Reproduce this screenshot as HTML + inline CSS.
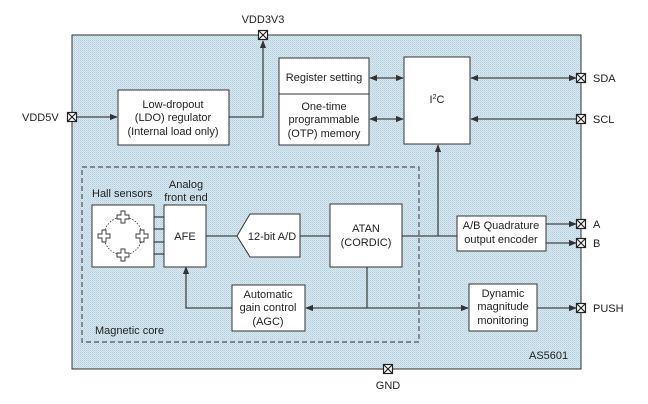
<!DOCTYPE html>
<html><head><style>
body{margin:0;background:#fff;}
svg{display:block;font-family:"Liberation Sans",Arial,sans-serif;font-size:11px;fill:#222;}
</style></head><body>
<svg width="648" height="404" viewBox="0 0 648 404" xmlns="http://www.w3.org/2000/svg">
<defs>
<marker id="a" viewBox="0 0 10 10" refX="9" refY="5" markerWidth="6" markerHeight="6" orient="auto-start-reverse"><path d="M0,1 L10,5 L0,9 z" fill="#333"/></marker>
<pattern id="dots" width="2" height="2" patternUnits="userSpaceOnUse"><rect width="2" height="2" fill="#d6e8f2"/><rect width="1" height="1" fill="#b8cfdc"/><rect x="1" y="1" width="1" height="1" fill="#c4d9e5"/></pattern>
<g id="cr"><path d="M-2,-6 h4 v4 h4 v4 h-4 v4 h-4 v-4 h-4 v-4 h4 z" fill="#fff" stroke="#333" stroke-width="0.9"/></g>
<g id="pin"><rect x="-4.5" y="-4.5" width="9" height="9" fill="#fff" stroke="#222" stroke-width="1.2"/><path d="M-4.5,-4.5 L4.5,4.5 M4.5,-4.5 L-4.5,4.5" stroke="#222" stroke-width="1.2"/></g>
</defs>
<rect x="72" y="35" width="509" height="334" fill="url(#dots)" stroke="#333" stroke-width="1"/>
<rect x="82" y="167" width="337" height="175" fill="none" stroke="#555" stroke-width="1.2" stroke-dasharray="5,3"/>

<g stroke="#444" stroke-width="1.3" fill="none">
<line x1="77" y1="117" x2="117" y2="117" marker-end="url(#a)"/>
<polyline points="229,117 263,117 263,41" marker-end="url(#a)"/>
<line x1="370" y1="78" x2="403" y2="78" marker-start="url(#a)" marker-end="url(#a)"/>
<line x1="370" y1="119" x2="403" y2="119" marker-start="url(#a)" marker-end="url(#a)"/>
<line x1="471" y1="78" x2="576" y2="78" marker-start="url(#a)" marker-end="url(#a)"/>
<line x1="576" y1="119" x2="471" y2="119" marker-end="url(#a)"/>
<line x1="154" y1="217" x2="164" y2="217"/><line x1="154" y1="229" x2="164" y2="229"/>
<line x1="154" y1="242" x2="164" y2="242"/><line x1="154" y1="254" x2="164" y2="254"/>
<line x1="206" y1="236" x2="237" y2="236"/>
<line x1="300" y1="236" x2="330" y2="236"/>
<line x1="402" y1="236" x2="457" y2="236"/>
<line x1="438" y1="236" x2="438" y2="145" marker-end="url(#a)"/>
<line x1="546" y1="224" x2="576" y2="224" marker-end="url(#a)"/>
<line x1="546" y1="243" x2="576" y2="243" marker-end="url(#a)"/>
<line x1="367" y1="267" x2="367" y2="308"/>
<line x1="367" y1="308" x2="306" y2="308" marker-end="url(#a)"/>
<line x1="367" y1="308" x2="468" y2="308" marker-end="url(#a)"/>
<polyline points="232,308 186,308 186,267" marker-end="url(#a)"/>
<line x1="537" y1="308" x2="576" y2="308" marker-end="url(#a)"/>
</g>

<g fill="#fff" stroke="#333" stroke-width="1">
<rect x="118" y="90" width="111" height="55"/>
<rect x="279" y="58" width="90" height="87"/>
<line x1="279" y1="94" x2="369" y2="94"/>
<rect x="404" y="57" width="66" height="87"/>
<rect x="92" y="205" width="62" height="62"/>
<rect x="164" y="205" width="42" height="62"/>
<path d="M237,236 L250,214 L300,214 L300,257 L250,257 Z"/>
<rect x="330" y="204" width="72" height="63"/>
<rect x="232" y="285" width="73" height="46"/>
<rect x="457" y="216" width="89" height="35"/>
<rect x="469" y="284" width="68" height="47"/>
</g>
<circle cx="123" cy="236" r="19" fill="none" stroke="#333" stroke-width="0.8" stroke-dasharray="1.5,1.5"/>
<use href="#cr" x="123" y="217"/><use href="#cr" x="123" y="255"/>
<use href="#cr" x="104" y="236"/><use href="#cr" x="142" y="236"/>

<use href="#pin" x="72" y="117"/><use href="#pin" x="263" y="35"/>
<use href="#pin" x="581" y="78"/><use href="#pin" x="581" y="119"/>
<use href="#pin" x="581" y="224"/><use href="#pin" x="581" y="243"/>
<use href="#pin" x="581" y="308"/><use href="#pin" x="388" y="369"/>

<g text-anchor="middle">
<text x="263" y="23">VDD3V3</text>
<text x="173" y="108">Low-dropout</text>
<text x="173" y="121">(LDO) regulator</text>
<text x="173" y="135">(Internal load only)</text>
<text x="324" y="81">Register setting</text>
<text x="324" y="110">One-time</text>
<text x="324" y="123">programmable</text>
<text x="324" y="137">(OTP) memory</text>
<text x="437" y="103">I<tspan font-size="7" dy="-4">2</tspan><tspan dy="4">C</tspan></text>
<text x="186" y="188">Analog</text>
<text x="186" y="201">front end</text>
<text x="185" y="240">AFE</text>
<text x="272" y="240">12-bit A/D</text>
<text x="366" y="232">ATAN</text>
<text x="366" y="246">(CORDIC)</text>
<text x="268" y="298">Automatic</text>
<text x="268" y="311">gain control</text>
<text x="268" y="325">(AGC)</text>
<text x="501" y="229">A/B Quadrature</text>
<text x="501" y="243">output encoder</text>
<text x="503" y="297">Dynamic</text>
<text x="503" y="310">magnitude</text>
<text x="503" y="324">monitoring</text>
<text x="388" y="389">GND</text>
</g>
<text x="22" y="121">VDD5V</text>
<text x="92" y="197">Hall sensors</text>
<text x="95" y="334">Magnetic core</text>
<text x="529" y="359">AS5601</text>
<text x="593" y="82">SDA</text>
<text x="593" y="123">SCL</text>
<text x="593" y="228">A</text>
<text x="593" y="247">B</text>
<text x="593" y="312">PUSH</text>
</svg>
</body></html>
